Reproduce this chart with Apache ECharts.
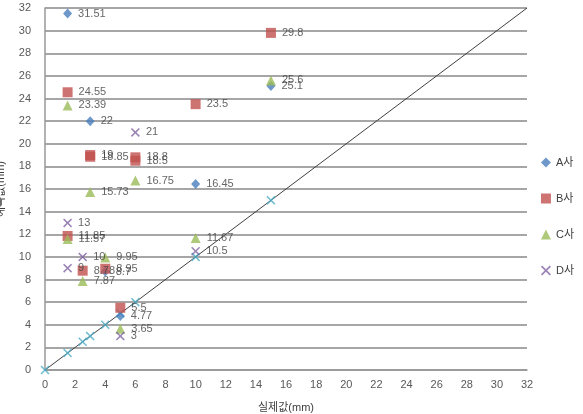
<!DOCTYPE html>
<html>
<head>
<meta charset="utf-8">
<script src="https://cdn.jsdelivr.net/npm/echarts@6/dist/echarts.min.js"></script>
<style>
  html, body { margin: 0; padding: 0; background: #fff; }
  #main { width: 583px; height: 414px; }
</style>
</head>
<body>
<div id="main"></div>
<script>
// 실제값(x) / 예측값(y)
var seriesNames = ["A사", "B사", "C사", "D사"];

var xA = [1.5, 3, 15, 10, 5, 4];
var yA = [31.51, 22, 25.1, 16.45, 4.77, 8.7];

var xB = [15, 1.5, 10, 3, 3, 6, 6, 1.5, 4, 2.5, 5];
var yB = [29.8, 24.55, 23.5, 19, 18.85, 18.8, 18.5, 11.85, 8.95, 8.78, 5.5];

var xC = [15, 1.5, 6, 3, 1.5, 10, 4, 2.5, 5];
var yC = [25.6, 23.39, 16.75, 15.73, 11.57, 11.67, 9.95, 7.87, 3.65];

var xD = [6, 1.5, 10, 2.5, 1.5, 5];
var yD = [21, 13, 10.5, 10, 9, 3];

// 실제값 기준점 (y = x)
var xRef = [0, 1.5, 2.5, 3, 4, 5, 6, 10, 15];
var yRef = [0, 1.5, 2.5, 3, 4, 5, 6, 10, 15];

var lineX = [0, 32];
var lineY = [0, 32];

function pairs(xs, ys) {
  return xs.map(function (x, i) { return [x, ys[i]]; });
}

var xMark = "path://M0,1.2L1.2,0L5,3.8L8.8,0L10,1.2L6.2,5L10,8.8L8.8,10L5,6.2L1.2,10L0,8.8L3.8,5Z";
var fontFamily = "'Liberation Sans', 'Noto Sans CJK KR', sans-serif";

var myChart = echarts.init(document.getElementById("main"));

var labelStyle = {
  show: true,
  position: "right",
  distance: 6,
  color: "#404040",
  fontSize: 11,
  fontFamily: fontFamily,
  formatter: function (p) { return p.value[1]; }
};

var option = {
  animation: false,
  textStyle: { fontFamily: fontFamily },
  grid: { left: 45, right: 56, top: 8, bottom: 44, outerBoundsMode: "none", containLabel: false },
  legend: {
    orient: "vertical",
    right: 4,
    top: 152,
    itemGap: 25,
    itemWidth: 10,
    itemHeight: 10,
    textStyle: { fontSize: 11, color: "#404040", fontFamily: fontFamily },
    data: seriesNames
  },
  xAxis: {
    type: "value",
    min: 0,
    max: 32,
    interval: 2,
    name: "실제값(mm)",
    nameLocation: "middle",
    nameGap: 32,
    nameTextStyle: { fontSize: 11, color: "#404040" },
    axisLine: { show: true, lineStyle: { color: "#999", width: 1.5 } },
    axisTick: { show: false },
    axisLabel: { fontSize: 11, color: "#595959", margin: 9 },
    splitLine: { show: false }
  },
  yAxis: {
    type: "value",
    min: 0,
    max: 32,
    interval: 2,
    name: "예측값(mm)",
    nameLocation: "middle",
    nameGap: 39,
    nameTextStyle: { fontSize: 11, color: "#404040" },
    axisLine: { show: true, lineStyle: { color: "#999", width: 1.5 } },
    axisTick: { show: false },
    axisLabel: { fontSize: 11, color: "#595959", margin: 14 },
    splitLine: { show: true, lineStyle: { color: "#a6a6a6", width: 2 } }
  },
  series: [
    {
      name: "line",
      type: "line",
      data: pairs(lineX, lineY),
      symbol: "none",
      lineStyle: { color: "#404040", width: 1 },
      silent: true,
      z: 1
    },
    {
      name: "ref",
      type: "scatter",
      data: pairs(xRef, yRef),
      symbol: xMark,
      symbolSize: 9,
      itemStyle: { color: "#4BACC6" },
      z: 2
    },
    {
      name: "A사",
      type: "scatter",
      data: pairs(xA, yA),
      symbol: "diamond",
      symbolSize: [9, 10],
      itemStyle: { color: "#4A7EBB" },
      label: labelStyle,
      z: 3
    },
    {
      name: "B사",
      type: "scatter",
      data: pairs(xB, yB),
      symbol: "rect",
      symbolSize: 10,
      itemStyle: { color: "#C0504D" },
      label: labelStyle,
      z: 4
    },
    {
      name: "C사",
      type: "scatter",
      data: pairs(xC, yC),
      symbol: "triangle",
      symbolSize: 10,
      itemStyle: { color: "#9BBB59" },
      label: labelStyle,
      z: 5
    },
    {
      name: "D사",
      type: "scatter",
      data: pairs(xD, yD),
      symbol: xMark,
      symbolSize: 9,
      itemStyle: { color: "#8064A2" },
      label: labelStyle,
      z: 6
    }
  ]
};

myChart.setOption(option);
</script>
</body>
</html>
